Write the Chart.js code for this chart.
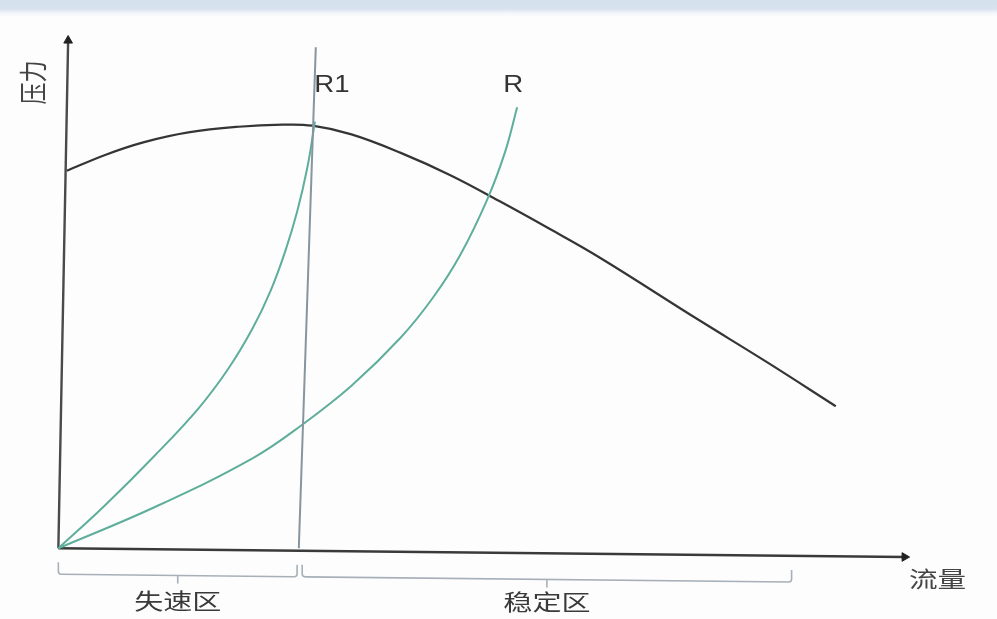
<!DOCTYPE html>
<html>
<head>
<meta charset="utf-8">
<script src="https://cdn.jsdelivr.net/npm/chart.js@4.4.1/dist/chart.umd.min.js"></script>
<style>
  html, body { margin: 0; padding: 0; background: #fdfdfd; }
  #wrap { position: relative; width: 997px; height: 619px; overflow: hidden;
          background: linear-gradient(to bottom, #d5e0ee 0px, #d8e2ef 9px, #f3f6fa 13px, #fdfdfd 17px, #fdfdfd 100%); }
  #c { position: absolute; left: 0; top: 0; }
</style>
</head>
<body>
<div id="wrap"><canvas id="c" width="997" height="619"></canvas></div>
<script>
// ---- data (flow Q, pressure P; arbitrary units) ----
const fanQ = [1.0, 5.5, 10.1, 15.3, 21.2, 26.4, 29.9, 34.5, 40.3, 46.2, 51.9, 57.8, 63.6, 75.2, 83.4, 91.5];
const fanP = [73.6, 76.7, 79.2, 81.1, 82.2, 82.6, 82.4, 80.7, 77.1, 72.7, 67.7, 62.3, 56.8, 44.7, 36.3, 27.7];

const r1Q = [0, 5.5, 11.3, 16.5, 20.0, 22.9, 25.0, 26.7, 28.1, 29.3, 30.2];
const r1P = [0, 8.4, 18.0, 27.3, 35.0, 43.0, 50.3, 57.9, 65.6, 74.2, 83.2];

const rQ = [0, 11.3, 22.9, 28.7, 34.5, 40.3, 44.1, 47.3, 50.5, 52.6, 54.0];
const rP = [0, 8.0, 17.6, 24.1, 31.7, 41.1, 48.9, 57.2, 68.1, 77.4, 86.0];

const surgeQ = [28.3, 30.3];
const surgeP = [0, 97.7];

const xAxisQ = [0, 99.6];
const xAxisP = [0, -1.7];
const yAxisQ = [0, 1.15];
const yAxisP = [0, 99.0];

const curveLabels = ['R1', 'R'];
const zoneLabels = ['失速区', '稳定区'];
const zoneStart = [0, 28.7];
const zoneEnd = [28.1, 86.3];
const xAxisTitle = '流量';
const yAxisTitle = '压力';

const pts = (xs, ys) => xs.map((v, i) => ({ x: v, y: ys[i] }));

const GREEN = '#5eae9b';

function drawText(ctx, txt, cx, cy, font, color, sx, rot) {
  ctx.save();
  ctx.translate(cx, cy);
  ctx.scale(sx, 1);
  if (rot) ctx.rotate(rot);
  ctx.font = font;
  ctx.fillStyle = color;
  ctx.textAlign = 'center';
  ctx.textBaseline = 'middle';
  ctx.fillText(txt, 0, 0);
  ctx.restore();
}

const annot = {
  id: 'annot',
  afterDatasetsDraw(chart) {
    const { ctx, scales: { x, y } } = chart;
    const ox = x.getPixelForValue(0), oy = y.getPixelForValue(0);
    const tilt = 0.0105;
    // braces for zones
    ctx.save();
    ctx.strokeStyle = '#a7b0b8';
    ctx.lineWidth = 1.6;
    zoneLabels.forEach((lab, i) => {
      const x0 = x.getPixelForValue(zoneStart[i]);
      const x1 = x.getPixelForValue(zoneEnd[i]);
      const xc = (x0 + x1) / 2;
      const t0 = oy + 14 + (x0 - ox) * tilt;
      const h0 = oy + 26 + (x0 - ox) * tilt;
      const h1 = oy + 26 + (x1 - ox) * tilt;
      const t1 = oy + 14 + (x1 - ox) * tilt;
      const hc = (h0 + h1) / 2;
      ctx.beginPath();
      ctx.moveTo(x0, t0);
      ctx.lineTo(x0, h0 - 3);
      ctx.quadraticCurveTo(x0, h0, x0 + 3, h0);
      ctx.lineTo(x1 - 3, h1);
      ctx.quadraticCurveTo(x1, h1, x1, h1 - 3);
      ctx.lineTo(x1, t1);
      ctx.stroke();
      ctx.beginPath();
      ctx.moveTo(xc, hc);
      ctx.lineTo(xc, hc + 8);
      ctx.stroke();
      drawText(ctx, lab, xc, oy + 52 + (xc - ox) * tilt * 0.3,
               '22px "Noto Sans CJK SC"', '#3a3a3a', 1.32, 0);
    });
    ctx.restore();
    // curve labels
    const r1End = r1Q.length - 1, rEnd = rQ.length - 1;
    drawText(ctx, curveLabels[0], x.getPixelForValue(r1Q[r1End]) + 17, y.getPixelForValue(90.3),
             '23px "Liberation Sans"', '#333', 1.2, 0);
    drawText(ctx, curveLabels[1], x.getPixelForValue(rQ[rEnd]) - 4, y.getPixelForValue(90.3),
             '23px "Liberation Sans"', '#333', 1.2, 0);
    // axis titles
    const xe = x.getPixelForValue(xAxisQ[1]), ye = y.getPixelForValue(xAxisP[1]);
    drawText(ctx, xAxisTitle, xe + 33, ye + 22, '22px "Noto Sans CJK SC"', '#444', 1.3, 0);
    drawText(ctx, yAxisTitle, ox - 25, y.getPixelForValue(90.8), '22px "Noto Sans CJK SC"', '#444', 1.28, -Math.PI / 2);
  }
};

new Chart(document.getElementById('c'), {
  type: 'scatter',
  data: {
    datasets: [
      { label: 'surge', data: pts(surgeQ, surgeP), showLine: true, borderColor: '#8795a0', borderWidth: 2, pointRadius: 0 },
      { label: 'R', data: pts(rQ, rP), showLine: true, borderColor: GREEN, borderWidth: 2, pointRadius: 0, tension: 0.4 },
      { label: 'R1', data: pts(r1Q, r1P), showLine: true, borderColor: GREEN, borderWidth: 2, pointRadius: 0, tension: 0.4 },
      { label: 'fan', data: pts(fanQ, fanP), showLine: true, borderColor: '#353535', borderWidth: 2.2, pointRadius: 0, tension: 0.4 },
      { label: 'xaxis', data: pts(xAxisQ, xAxisP), showLine: true, borderColor: '#3a3a3a', borderWidth: 2.4,
        pointRadius: [0, 5], pointStyle: 'triangle', pointRotation: [0, 90], backgroundColor: '#222', pointBorderColor: '#222', pointBorderWidth: 1 },
      { label: 'yaxis', data: pts(yAxisQ, yAxisP), showLine: true, borderColor: '#4a4a4a', borderWidth: 2.4,
        pointRadius: [0, 5], pointStyle: 'triangle', pointRotation: [0, 0], backgroundColor: '#222', pointBorderColor: '#222', pointBorderWidth: 1 }
    ]
  },
  options: {
    responsive: false,
    animation: false,
    layout: { padding: 0 },
    plugins: { legend: { display: false }, tooltip: { enabled: false }, title: { display: false } },
    scales: {
      x: { type: 'linear', display: false, min: -6.163, max: 109.77 },
      y: { type: 'linear', display: false, min: -12.62, max: 105.74 }
    }
  },
  plugins: [annot]
});
</script>
</body>
</html>
